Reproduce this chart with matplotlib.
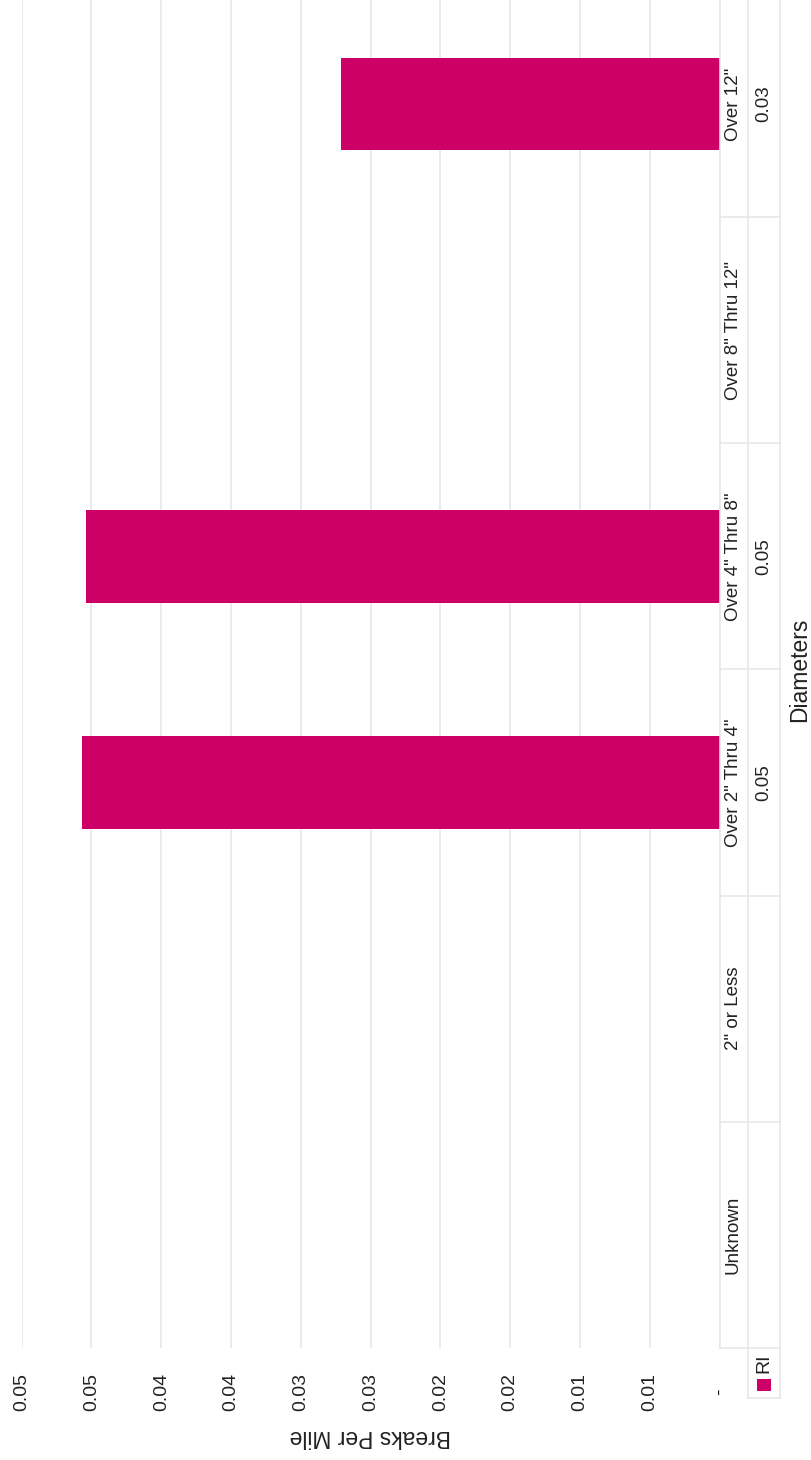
import matplotlib
matplotlib.use("Agg")
import matplotlib.pyplot as plt
import numpy as np
from matplotlib.patches import Rectangle
from matplotlib.lines import Line2D
from matplotlib.ticker import FuncFormatter, MultipleLocator


# DATA
diameters = ["Unknown", "2\" or Less", "Over 2\" Thru 4\"",
             "Over 4\" Thru 8\"", "Over 8\" Thru 12\"", "Over 12\""]
breaks_ri = [np.nan, np.nan, 0.0457, 0.0454, np.nan, 0.0271]
series_name = "RI"

BAR_COLOR = "#cc0066"
GRID_COLOR = "#e6e6e6"
TEXT_COLOR = "#222222"

plt.rcParams["font.family"] = ["Liberation Sans", "DejaVu Sans"]

W, H = 811, 1460
fig = plt.figure(figsize=(W / 100, H / 100), dpi=100)


def fx(x):
    return x / W


def fy(y):
    return 1 - y / H


# main plot area (whole chart is turned on its side)
ax_left, ax_right = 21.7, 719.5
ax_top, ax_bottom = -9, 1348
ax = fig.add_axes([fx(ax_left), fy(ax_bottom),
                   (ax_right - ax_left) / W, (ax_bottom - ax_top) / H])

ypos = np.arange(len(diameters))
vals = np.array(breaks_ri)
ax.barh(ypos, np.nan_to_num(vals), height=0.41, color=BAR_COLOR, zorder=3)

ax.set_xlim(0.05, 0)
ax.set_ylim(-0.5, len(diameters) - 0.5)
ax.xaxis.set_major_locator(MultipleLocator(0.005))
ax.grid(axis="x", color=GRID_COLOR, linewidth=1.1, zorder=0)
ax.set_yticks([])
for s in ax.spines.values():
    s.set_visible(False)


def acct(v, pos):
    if abs(v) < 1e-9:
        return "-"
    return "%.2f" % (np.floor(v * 100 + 0.5 + 1e-9) / 100)


ax.xaxis.set_major_formatter(FuncFormatter(acct))
ax.tick_params(axis="x", length=0, pad=31.5, labelsize=14,
               labelcolor=TEXT_COLOR, labelrotation=90)
for lbl in ax.get_xticklabels():
    lbl.set_va("center")

# data table under the category axis
tab = fig.add_axes([fx(ax_right), fy(ax_bottom),
                    (779.5 - ax_right) / W, (ax_bottom - ax_top) / H],
                   sharey=ax)
tab.set_xlim(0, 60)
tab.axis("off")
col_split = 28.5
for x in (0, col_split, 60):
    tab.axvline(x, color=GRID_COLOR, linewidth=1.1, clip_on=False)
for b in np.arange(-0.5, len(diameters), 1.0):
    tab.plot([0, 60], [b, b], color=GRID_COLOR, linewidth=1.1, clip_on=False)

for i, (name, v) in enumerate(zip(diameters, breaks_ri)):
    tab.text(13.5, i, name, rotation=90, ha="center", va="center",
             fontsize=13.5, color=TEXT_COLOR)
    if not np.isnan(v):
        tab.text(44, i, "%.2f" % v, rotation=90, ha="center", va="center",
                 fontsize=13.5, color=TEXT_COLOR)

# legend cell for the series row
for seg in ([(748, 1348), (748, 1398)], [(779.5, 1348), (779.5, 1398)],
            [(748, 1398), (779.5, 1398)]):
    (x0, y0), (x1, y1) = seg
    fig.add_artist(Line2D([fx(x0), fx(x1)], [fy(y0), fy(y1)],
                          color=GRID_COLOR, linewidth=1.1))
fig.add_artist(Rectangle((fx(757), fy(1391)), 14 / W, 12 / H,
                         facecolor=BAR_COLOR, edgecolor="none"))
fig.text(fx(763.5), fy(1363), series_name, rotation=90, ha="center",
         va="center", fontsize=14, color=TEXT_COLOR)

# axis titles
fig.text(fx(800), fy((ax_top + ax_bottom) / 2), "Diameters", rotation=90,
         ha="center", va="center", fontsize=16.5, color=TEXT_COLOR)
fig.text(fx((ax_left + ax_right) / 2), fy(1437), "Breaks Per Mile",
         rotation=180, ha="center", va="center", fontsize=16.5,
         color=TEXT_COLOR)

fig.savefig("out.png", dpi=100, facecolor="white")
